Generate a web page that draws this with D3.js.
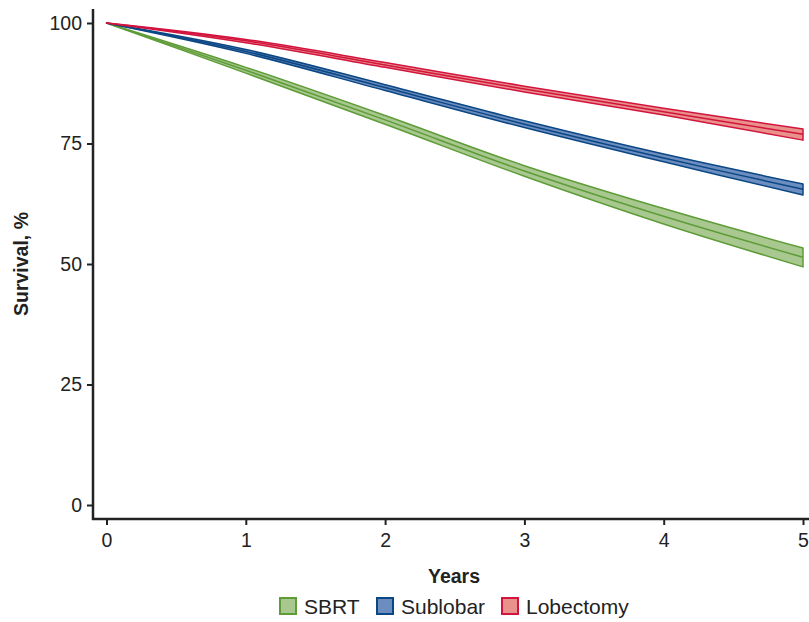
<!DOCTYPE html>
<html>
<head>
<meta charset="utf-8">
<script src="https://cdn.jsdelivr.net/npm/d3@7.9.0/dist/d3.min.js"></script>
<style>
  body { margin: 0; background: #fff; }
  svg { font-family: "Liberation Sans", Arial, Helvetica, sans-serif; }
</style>
</head>
<body>
<svg id="chart" width="809" height="622"></svg>
<script>
// data (survival %, by year)
const years = [0, 1, 2, 3, 4, 5];
const sbrtLow = [100, 89.6, 79.0, 68.2, 58.3, 49.4];
const sbrtMid = [100, 90.2, 79.9, 69.3, 59.9, 51.4];
const sbrtHigh = [100, 90.8, 80.8, 70.4, 61.5, 53.3];
const subLow = [100, 93.7, 86.0, 78.3, 71.2, 64.3];
const subMid = [100, 94.1, 86.6, 79.0, 72.0, 65.5];
const subHigh = [100, 94.5, 87.2, 79.7, 72.8, 66.6];
const lobLow = [100, 95.9, 90.8, 85.7, 80.9, 75.7];
const lobMid = [100, 96.3, 91.3, 86.3, 81.6, 76.9];
const lobHigh = [100, 96.6, 91.8, 86.9, 82.3, 78.0];
const yTicks = [0, 25, 50, 75, 100];
const xTicks = [0, 1, 2, 3, 4, 5];
const groups = ['SBRT', 'Sublobar', 'Lobectomy'];

const series = [
  { name: 'SBRT', low: sbrtLow, mid: sbrtMid, high: sbrtHigh, stroke: '#5e9c38', fill: '#a8c88f' },
  { name: 'Sublobar', low: subLow, mid: subMid, high: subHigh, stroke: '#0b4784', fill: '#6b8dbf' },
  { name: 'Lobectomy', low: lobLow, mid: lobMid, high: lobHigh, stroke: '#d2143f', fill: '#e8928b' },
];

const svg = d3.select('#chart');
const x = d3.scaleLinear().domain([0, 5]).range([106.5, 803]);
const y = d3.scaleLinear().domain([0, 100]).range([505, 23]);
const axisX = 93, axisY = 519;

// bands
series.forEach(s => {
  const pts = years.map((yr, i) => ({ yr, lo: s.low[i], mi: s.mid[i], hi: s.high[i] }));
  const area = d3.area().x(d => x(d.yr)).y0(d => y(d.lo)).y1(d => y(d.hi)).curve(d3.curveCatmullRom);
  svg.append('path').attr('d', area(pts)).attr('fill', s.fill)
    .attr('stroke', s.stroke).attr('stroke-width', 1.5).attr('stroke-linejoin', 'round');
  const line = d3.line().x(d => x(d.yr)).y(d => y(d.mi)).curve(d3.curveCatmullRom);
  svg.append('path').attr('d', line(pts)).attr('fill', 'none')
    .attr('stroke', s.stroke).attr('stroke-width', 1.5);
});

// axes
const yAxis = svg.append('g').attr('transform', `translate(${axisX},0)`)
  .call(d3.axisLeft(y).tickValues(yTicks).tickSize(6).tickPadding(5).tickFormat(d3.format('d')));
yAxis.select('.domain').remove();
svg.append('line').attr('x1', axisX).attr('x2', axisX).attr('y1', 9).attr('y2', axisY + 1)
  .attr('stroke', '#222').attr('stroke-width', 2.5);

const xAxis = svg.append('g').attr('transform', `translate(0,${axisY})`)
  .call(d3.axisBottom(x).tickValues(xTicks).tickSize(6).tickPadding(8).tickFormat(d3.format('d')));
xAxis.select('.domain').remove();
svg.append('line').attr('x1', axisX - 1).attr('x2', 809).attr('y1', axisY).attr('y2', axisY)
  .attr('stroke', '#222').attr('stroke-width', 2.5);

svg.selectAll('.tick line').attr('stroke', '#222').attr('stroke-width', 2);
svg.selectAll('.tick text').attr('font-size', 19.5).attr('fill', '#222')
  .attr('font-family', '"Liberation Sans", Arial, sans-serif');

// axis titles
svg.append('text').attr('transform', 'translate(28,264) rotate(-90)')
  .attr('text-anchor', 'middle').attr('font-size', 19.5).attr('font-weight', 'bold')
  .attr('fill', '#222').text('Survival, %');
svg.append('text').attr('x', 454).attr('y', 583).attr('text-anchor', 'middle')
  .attr('font-size', 19.5).attr('font-weight', 'bold').attr('fill', '#222').text('Years');

// legend
const legendX = [279, 376, 501];
groups.forEach((g, i) => {
  const s = series[i];
  svg.append('rect').attr('x', legendX[i] + 1).attr('y', 598).attr('width', 16).attr('height', 16)
    .attr('fill', s.fill).attr('stroke', s.stroke).attr('stroke-width', 2);
  svg.append('text').attr('x', legendX[i] + 25).attr('y', 613.5).attr('font-size', 21)
    .attr('fill', '#222').text(g);
});
</script>
</body>
</html>
